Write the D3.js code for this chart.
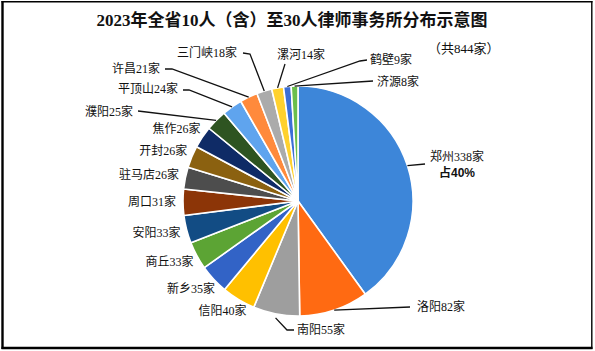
<!DOCTYPE html>
<html lang="zh">
<head>
<meta charset="utf-8">
<title>2023年全省10人（含）至30人律师事务所分布示意图</title>
<script src="https://d3js.org/d3.v7.min.js"></script>
<style>
  body { margin: 0; background: #fff; }
  text { font-family: "Liberation Serif", "Noto Sans CJK SC", serif; fill: #111; }
</style>
</head>
<body>
<script>
// data
var cities = ["郑州", "洛阳", "南阳", "信阳", "新乡", "商丘", "安阳", "周口", "驻马店",
              "开封", "焦作", "濮阳", "平顶山", "许昌", "三门峡", "漯河", "鹤壁", "济源"];
var counts = [338, 82, 55, 40, 35, 33, 33, 31, 26, 26, 26, 25, 24, 21, 18, 14, 9, 8];
var total = 844;
var titleText = "2023年全省10人（含）至30人律师事务所分布示意图";
var subText = "（共844家）";

var palette = ["#3d86d9", "#ff6a12", "#9e9e9e", "#ffc000", "#3263c6", "#5ca434",
               "#124c84", "#8c3507", "#4d4d4d", "#8b6110", "#0f2b66", "#2e5421",
               "#5fa4ee", "#ff8a3c", "#ababab", "#ffd12e", "#3c6fd6", "#6bbf4c"];

var W = 595, H = 351;
var cx = 298, cy = 201, R = 115;

// hand-placed labels (Excel style), leader points after the slice edge
var manual = {
  "郑州":   {x: 430, y: 161, anchor: "start", pts: [[425, 164]]},
  "洛阳":   {x: 417, y: 311, anchor: "start", pts: [[410, 307]]},
  "南阳":   {x: 297, y: 334, anchor: "start", pts: [[287, 330], [294, 330]], r0: 4},
  "濮阳":   {x: 133, y: 116, anchor: "end", pts: [[138, 111]]},
  "平顶山": {x: 178, y: 93, anchor: "end", pts: [[189, 90], [183, 90]]},
  "许昌":   {x: 160, y: 73, anchor: "end", pts: [[172, 69], [165, 69]]},
  "三门峡": {x: 237, y: 57, anchor: "end", pts: [[250, 54], [243, 53]]},
  "漯河":   {x: 277, y: 59, anchor: "start", pts: [[285, 64]]},
  "鹤壁":   {x: 370, y: 64, anchor: "start", pts: [[360, 61], [367, 60]]},
  "济源":   {x: 377, y: 86, anchor: "start", pts: [[373, 81]]}
};

var data = cities.map(function(c, i) { return {city: c, count: counts[i], color: palette[i]}; });

var svg = d3.select("body").append("svg")
  .attr("width", W)
  .attr("height", H);

svg.append("rect").attr("width", W).attr("height", H).attr("fill", "#fff");

// frame
svg.append("line").attr("x1", 2.5).attr("x2", 2.5).attr("y1", 1).attr("y2", 349)
  .attr("stroke", "#000").attr("stroke-width", 2.4);
svg.append("line").attr("x1", 1.5).attr("x2", 592.5).attr("y1", 1.8).attr("y2", 1.8)
  .attr("stroke", "#000").attr("stroke-width", 1.4);
svg.append("line").attr("x1", 591.8).attr("x2", 591.8).attr("y1", 1).attr("y2", 349)
  .attr("stroke", "#000").attr("stroke-width", 1.4);
svg.append("line").attr("x1", 1.5).attr("x2", 592.5).attr("y1", 348).attr("y2", 348)
  .attr("stroke", "#000").attr("stroke-width", 2.6);

// title
svg.append("text")
  .attr("x", 292).attr("y", 26)
  .attr("text-anchor", "middle")
  .style("font-size", "17px").style("font-weight", "bold")
  .text(titleText);
svg.append("text")
  .attr("x", 428).attr("y", 53)
  .style("font-size", "13px")
  .text(subText);

var pie = d3.pie().sort(null).value(function(d) { return d.count; });
var arcs = pie(data);
var arc = d3.arc().innerRadius(0).outerRadius(R);

var g = svg.append("g").attr("transform", "translate(" + cx + "," + cy + ")");

g.selectAll("path.slice")
  .data(arcs)
  .enter()
  .append("path")
  .attr("class", "slice")
  .attr("d", arc)
  .attr("fill", function(d) { return d.data.color; })
  .attr("stroke", "#fff")
  .attr("stroke-width", 1.6)
  .attr("stroke-linejoin", "round");

function polar(a, r) {
  return [cx + r * Math.sin(a), cy - r * Math.cos(a)];
}

var labels = svg.append("g");

arcs.forEach(function(d) {
  var a = (d.startAngle + d.endAngle) / 2;
  var name = d.data.city;
  var txt = name + d.data.count + "家";
  var m = manual[name];
  if (m) {
    var p0 = polar(a, R + (m.r0 || 0));
    var line = [p0].concat(m.pts);
    labels.append("path")
      .attr("d", d3.line()(line))
      .attr("fill", "none")
      .attr("stroke", "#111")
      .attr("stroke-width", 1.3);
    if (name === "郑州") {
      var t1 = labels.append("text")
        .attr("x", m.x).attr("y", m.y)
        .style("font-size", "12px")
        .text(txt);
      var w = t1.node().getComputedTextLength();
      labels.append("text")
        .attr("x", m.x + w / 2).attr("y", m.y + 16)
        .attr("text-anchor", "middle")
        .style("font-size", "12px").style("font-weight", "bold")
        .style("font-family", "'Liberation Sans', 'Noto Sans CJK SC', sans-serif")
        .text("占" + Math.round(d.data.count / total * 100) + "%");
    } else {
      labels.append("text")
        .attr("x", m.x).attr("y", m.y)
        .attr("text-anchor", m.anchor)
        .style("font-size", "12px")
        .text(txt);
    }
  } else {
    // outside end placement
    var p = polar(a, R + 7);
    var ux = Math.sin(a), uy = -Math.cos(a);
    var t = labels.append("text")
      .attr("text-anchor", "middle")
      .style("font-size", "12px")
      .text(txt);
    var tw = t.node().getComputedTextLength(), th = 14;
    var mx = p[0] + ux * tw / 2, my = p[1] + uy * th / 2;
    t.attr("x", mx).attr("y", my + 4);
  }
});
</script>
</body>
</html>
